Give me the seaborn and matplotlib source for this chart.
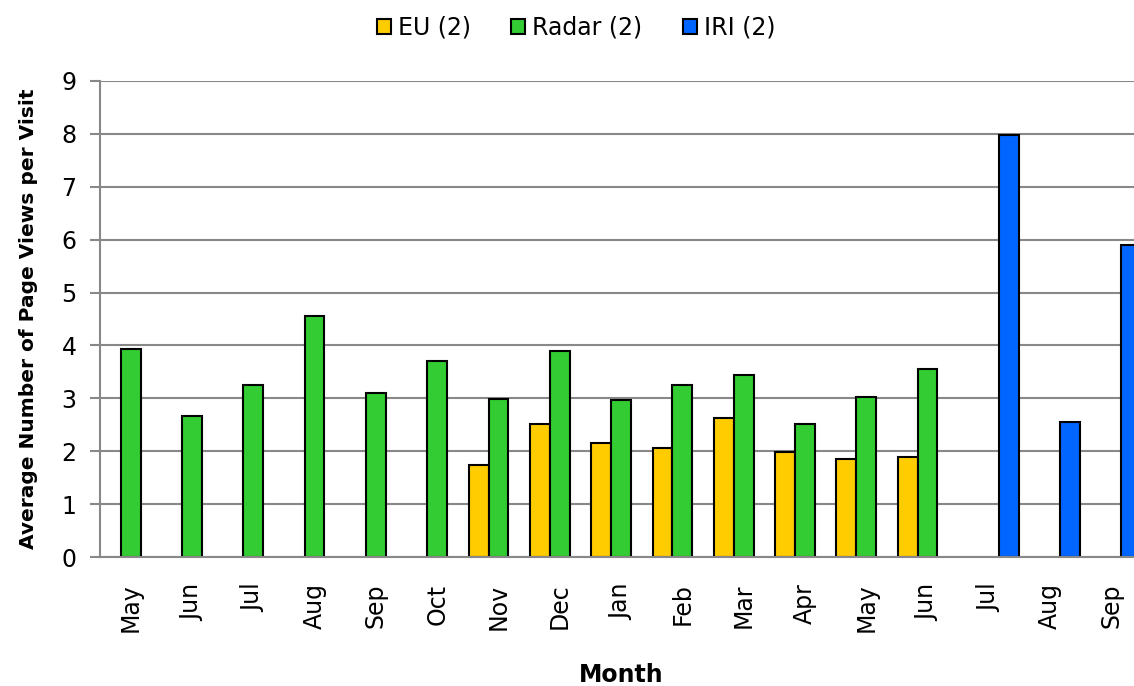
import numpy as np
import pandas as pd
import matplotlib
matplotlib.use("Agg")
import matplotlib.pyplot as plt
import seaborn as sns

# Data
months = ["May", "Jun", "Jul", "Aug", "Sep", "Oct", "Nov", "Dec", "Jan",
          "Feb", "Mar", "Apr", "May", "Jun", "Jul", "Aug", "Sep"]
eu = [np.nan] * 6 + [1.74, 2.51, 2.16, 2.06, 2.63, 1.98, 1.85, 1.89] + [np.nan] * 3
radar = [3.93, 2.67, 3.25, 4.56, 3.10, 3.70, 2.99, 3.89, 2.97, 3.25, 3.44,
         2.51, 3.02, 3.55] + [np.nan] * 3
iri = [np.nan] * 14 + [7.98, 2.55, 5.90]
series = ["EU (2)", "Radar (2)", "IRI (2)"]
colors = ["#FFCC00", "#33CC33", "#0066FF"]

# Long table, month slot as a unique key since month names repeat
slots = [f"{i:02d}" for i in range(len(months))]
rows = []
for name, vals in zip(series, [eu, radar, iri]):
    for s, v in zip(slots, vals):
        rows.append({"slot": s, "series": name, "value": v})
df = pd.DataFrame(rows)

sns.set_style("white")
plt.rcParams["font.family"] = ["DejaVu Sans"]
plt.rcParams["text.color"] = "black"
plt.rcParams["axes.labelcolor"] = "black"
plt.rcParams["xtick.labelcolor"] = "black"
plt.rcParams["ytick.labelcolor"] = "black"

fig = plt.figure(figsize=(11.34, 6.86), dpi=100)
ax = fig.add_axes([0.0882, 0.188, 0.9189, 0.694])

sns.barplot(data=df, x="slot", y="value", hue="series", order=slots,
            hue_order=series, palette=colors, width=0.97, gap=0,
            edgecolor="black", linewidth=1.5, saturation=1, ax=ax,
            legend=True)

ax.set_ylim(0, 9)
ax.set_xlim(-0.5, len(months) - 0.5)
ax.set_yticks(range(10))
ax.yaxis.grid(True, color="#888888", linewidth=1.5)
ax.set_axisbelow(True)

ax.set_xticks(range(len(months)))
ax.set_xticklabels(months, rotation=90, fontsize=17)
ax.set_xticks(np.arange(-0.5, len(months), 1), minor=True)
ax.tick_params(axis="x", which="major", length=0, pad=19)
ax.tick_params(axis="x", which="minor", length=5, width=1.5,
               color="#888888", direction="out")
ax.tick_params(axis="y", length=7, width=1.5, color="#888888",
               labelsize=17, left=True, direction="out", pad=10)

for side in ["top", "right"]:
    ax.spines[side].set_visible(False)
for side in ["left", "bottom"]:
    ax.spines[side].set_color("#888888")
    ax.spines[side].set_linewidth(1.5)

ax.set_xlabel("Month", fontsize=17, fontweight="bold", labelpad=22)
ax.set_ylabel("Average Number of Page Views per Visit", fontsize=14.5,
              fontweight="bold", labelpad=17)

handles, labels = ax.get_legend_handles_labels()
ax.legend_.remove()
fig.legend(handles, labels, loc="center", bbox_to_anchor=(0.508, 0.96),
           ncol=3, frameon=False, fontsize=17, handlelength=0.6,
           handleheight=0.6, handletextpad=0.3, columnspacing=1.7)

fig.savefig("out.png", dpi=100)
